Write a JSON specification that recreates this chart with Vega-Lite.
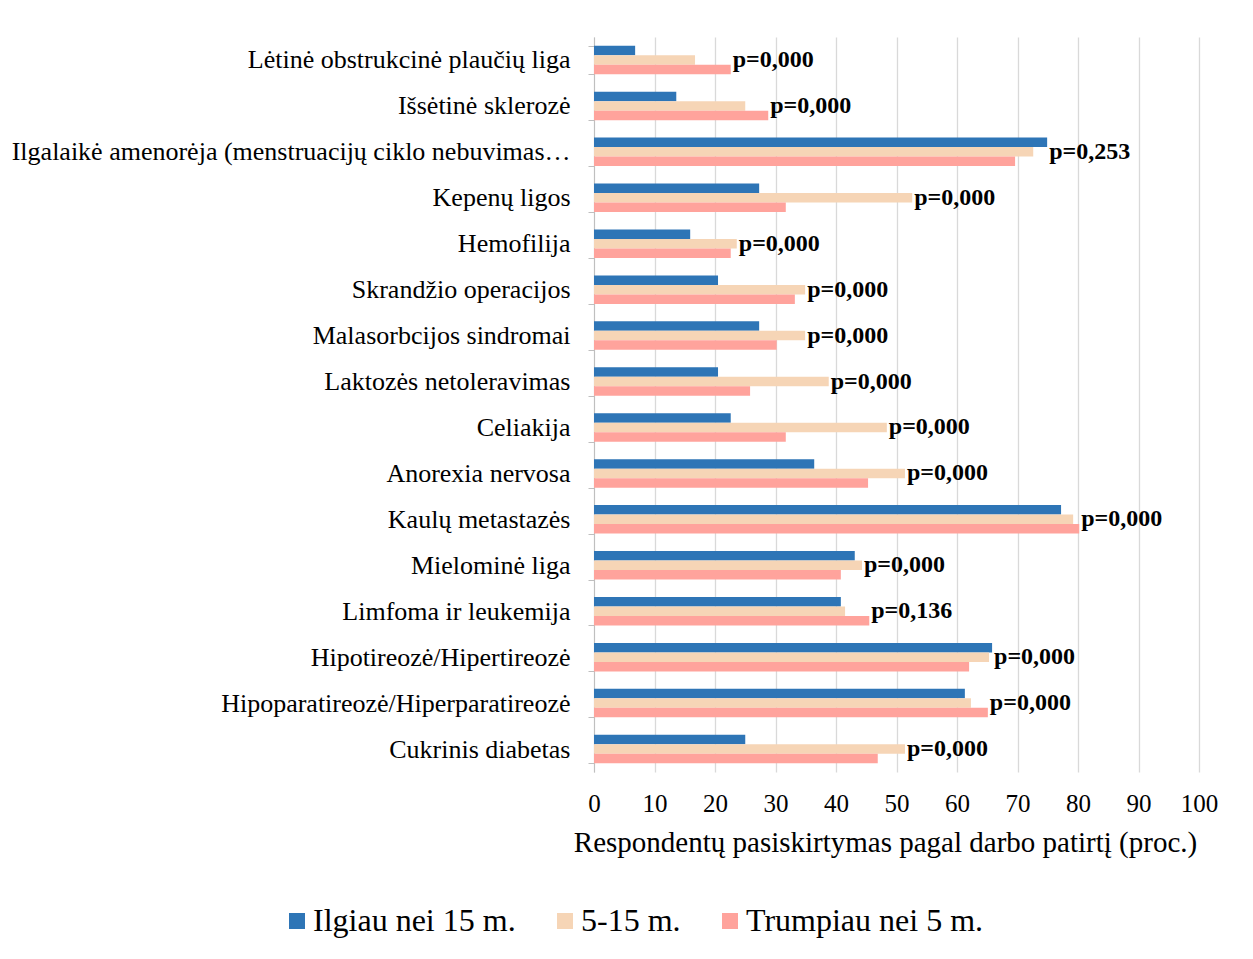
{
  "$schema": "https://vega.github.io/schema/vega-lite/v6.json",
  "autosize": "none",
  "width": 605,
  "height": 735,
  "padding": {"left": 594, "top": 37, "right": 54, "bottom": 187},
  "background": "white",
  "config": {
    "font": "Liberation Serif",
    "view": {"stroke": null}
  },
  "data": {
    "values": [
      {"category": "Lėtinė obstrukcinė plaučių liga", "series": "Ilgiau nei 15 m.", "value": 6.8, "p": "p=0,000"},
      {"category": "Lėtinė obstrukcinė plaučių liga", "series": "5-15 m.", "value": 16.7, "p": "p=0,000"},
      {"category": "Lėtinė obstrukcinė plaučių liga", "series": "Trumpiau nei 5 m.", "value": 22.6, "p": "p=0,000"},
      {"category": "Išsėtinė sklerozė", "series": "Ilgiau nei 15 m.", "value": 13.6, "p": "p=0,000"},
      {"category": "Išsėtinė sklerozė", "series": "5-15 m.", "value": 25.0, "p": "p=0,000"},
      {"category": "Išsėtinė sklerozė", "series": "Trumpiau nei 5 m.", "value": 28.8, "p": "p=0,000"},
      {"category": "Ilgalaikė amenorėja (menstruacijų ciklo nebuvimas…", "series": "Ilgiau nei 15 m.", "value": 74.9, "p": "p=0,253"},
      {"category": "Ilgalaikė amenorėja (menstruacijų ciklo nebuvimas…", "series": "5-15 m.", "value": 72.6, "p": "p=0,253"},
      {"category": "Ilgalaikė amenorėja (menstruacijų ciklo nebuvimas…", "series": "Trumpiau nei 5 m.", "value": 69.6, "p": "p=0,253"},
      {"category": "Kepenų ligos", "series": "Ilgiau nei 15 m.", "value": 27.3, "p": "p=0,000"},
      {"category": "Kepenų ligos", "series": "5-15 m.", "value": 52.6, "p": "p=0,000"},
      {"category": "Kepenų ligos", "series": "Trumpiau nei 5 m.", "value": 31.7, "p": "p=0,000"},
      {"category": "Hemofilija", "series": "Ilgiau nei 15 m.", "value": 15.9, "p": "p=0,000"},
      {"category": "Hemofilija", "series": "5-15 m.", "value": 23.6, "p": "p=0,000"},
      {"category": "Hemofilija", "series": "Trumpiau nei 5 m.", "value": 22.6, "p": "p=0,000"},
      {"category": "Skrandžio operacijos", "series": "Ilgiau nei 15 m.", "value": 20.5, "p": "p=0,000"},
      {"category": "Skrandžio operacijos", "series": "5-15 m.", "value": 34.9, "p": "p=0,000"},
      {"category": "Skrandžio operacijos", "series": "Trumpiau nei 5 m.", "value": 33.2, "p": "p=0,000"},
      {"category": "Malasorbcijos sindromai", "series": "Ilgiau nei 15 m.", "value": 27.3, "p": "p=0,000"},
      {"category": "Malasorbcijos sindromai", "series": "5-15 m.", "value": 34.9, "p": "p=0,000"},
      {"category": "Malasorbcijos sindromai", "series": "Trumpiau nei 5 m.", "value": 30.2, "p": "p=0,000"},
      {"category": "Laktozės netoleravimas", "series": "Ilgiau nei 15 m.", "value": 20.5, "p": "p=0,000"},
      {"category": "Laktozės netoleravimas", "series": "5-15 m.", "value": 38.8, "p": "p=0,000"},
      {"category": "Laktozės netoleravimas", "series": "Trumpiau nei 5 m.", "value": 25.8, "p": "p=0,000"},
      {"category": "Celiakija", "series": "Ilgiau nei 15 m.", "value": 22.6, "p": "p=0,000"},
      {"category": "Celiakija", "series": "5-15 m.", "value": 48.4, "p": "p=0,000"},
      {"category": "Celiakija", "series": "Trumpiau nei 5 m.", "value": 31.7, "p": "p=0,000"},
      {"category": "Anorexia nervosa", "series": "Ilgiau nei 15 m.", "value": 36.4, "p": "p=0,000"},
      {"category": "Anorexia nervosa", "series": "5-15 m.", "value": 51.4, "p": "p=0,000"},
      {"category": "Anorexia nervosa", "series": "Trumpiau nei 5 m.", "value": 45.3, "p": "p=0,000"},
      {"category": "Kaulų metastazės", "series": "Ilgiau nei 15 m.", "value": 77.2, "p": "p=0,000"},
      {"category": "Kaulų metastazės", "series": "5-15 m.", "value": 79.2, "p": "p=0,000"},
      {"category": "Kaulų metastazės", "series": "Trumpiau nei 5 m.", "value": 80.2, "p": "p=0,000"},
      {"category": "Mielominė liga", "series": "Ilgiau nei 15 m.", "value": 43.1, "p": "p=0,000"},
      {"category": "Mielominė liga", "series": "5-15 m.", "value": 44.3, "p": "p=0,000"},
      {"category": "Mielominė liga", "series": "Trumpiau nei 5 m.", "value": 40.8, "p": "p=0,000"},
      {"category": "Limfoma ir leukemija", "series": "Ilgiau nei 15 m.", "value": 40.8, "p": "p=0,136"},
      {"category": "Limfoma ir leukemija", "series": "5-15 m.", "value": 41.5, "p": "p=0,136"},
      {"category": "Limfoma ir leukemija", "series": "Trumpiau nei 5 m.", "value": 45.5, "p": "p=0,136"},
      {"category": "Hipotireozė/Hipertireozė", "series": "Ilgiau nei 15 m.", "value": 65.8, "p": "p=0,000"},
      {"category": "Hipotireozė/Hipertireozė", "series": "5-15 m.", "value": 65.3, "p": "p=0,000"},
      {"category": "Hipotireozė/Hipertireozė", "series": "Trumpiau nei 5 m.", "value": 62.0, "p": "p=0,000"},
      {"category": "Hipoparatireozė/Hiperparatireozė", "series": "Ilgiau nei 15 m.", "value": 61.3, "p": "p=0,000"},
      {"category": "Hipoparatireozė/Hiperparatireozė", "series": "5-15 m.", "value": 62.3, "p": "p=0,000"},
      {"category": "Hipoparatireozė/Hiperparatireozė", "series": "Trumpiau nei 5 m.", "value": 65.1, "p": "p=0,000"},
      {"category": "Cukrinis diabetas", "series": "Ilgiau nei 15 m.", "value": 25.0, "p": "p=0,000"},
      {"category": "Cukrinis diabetas", "series": "5-15 m.", "value": 51.4, "p": "p=0,000"},
      {"category": "Cukrinis diabetas", "series": "Trumpiau nei 5 m.", "value": 46.9, "p": "p=0,000"}
    ]
  },
  "layer": [
    {
      "mark": {"type": "bar"},
      "encoding": {
        "y": {
          "field": "category",
          "type": "nominal",
          "sort": ["Lėtinė obstrukcinė plaučių liga", "Išsėtinė sklerozė", "Ilgalaikė amenorėja (menstruacijų ciklo nebuvimas…", "Kepenų ligos", "Hemofilija", "Skrandžio operacijos", "Malasorbcijos sindromai", "Laktozės netoleravimas", "Celiakija", "Anorexia nervosa", "Kaulų metastazės", "Mielominė liga", "Limfoma ir leukemija", "Hipotireozė/Hipertireozė", "Hipoparatireozė/Hiperparatireozė", "Cukrinis diabetas"],
          "scale": {"paddingInner": 0.38, "paddingOuter": 0.19},
          "axis": {
            "title": null,
            "labelFont": "Liberation Serif",
            "labelFontSize": 26,
            "labelColor": "#000000",
            "labelLimit": 620,
            "labelPadding": 18,
            "domainColor": "#bfbfbf",
            "domainWidth": 1,
            "tickColor": "#bfbfbf",
            "tickSize": 6,
            "tickBand": "extent",
            "grid": false
          }
        },
        "yOffset": {
          "field": "series",
          "type": "nominal",
          "sort": ["Ilgiau nei 15 m.", "5-15 m.", "Trumpiau nei 5 m."]
        },
        "x": {
          "field": "value",
          "type": "quantitative",
          "scale": {"domain": [0, 100], "nice": false},
          "axis": {
            "values": [0, 10, 20, 30, 40, 50, 60, 70, 80, 90, 100],
            "title": "Respondentų pasiskirtymas pagal darbo patirtį (proc.)",
            "titleFont": "Liberation Serif",
            "titleFontSize": 29,
            "titleFontWeight": "normal",
            "titleColor": "#000000",
            "titlePadding": 12,
            "titleX": 291,
            "titleAlign": "center",
            "labelFont": "Liberation Serif",
            "labelFontSize": 25,
            "labelColor": "#000000",
            "labelPadding": 19,
            "labelFlush": false,
            "labelOverlap": false,
            "domain": false,
            "ticks": false,
            "grid": true,
            "gridColor": "#d9d9d9",
            "gridWidth": 1.3
          }
        },
        "color": {
          "field": "series",
          "type": "nominal",
          "sort": ["Ilgiau nei 15 m.", "5-15 m.", "Trumpiau nei 5 m."],
          "scale": {
            "domain": ["Ilgiau nei 15 m.", "5-15 m.", "Trumpiau nei 5 m."],
            "range": ["#2E75B6", "#F6D5B6", "#FFA39C"]
          },
          "legend": {
            "title": null,
            "orient": "none",
            "legendX": -313,
            "legendY": 868,
            "direction": "horizontal",
            "symbolType": "square",
            "symbolSize": 256,
            "symbolStrokeWidth": 0,
            "labelFont": "Liberation Serif",
            "labelFontSize": 32,
            "labelColor": "#000000",
            "labelOffset": 0,
            "labelLimit": 400,
            "columnPadding": 33
          }
        }
      }
    },
    {
      "transform": [
        {"aggregate": [{"op": "max", "field": "value", "as": "maxValue"}], "groupby": ["category", "p"]}
      ],
      "mark": {"type": "text", "align": "left", "baseline": "middle", "dx": 2, "fontWeight": "bold", "fontSize": 24, "font": "Liberation Serif", "color": "#000000"},
      "encoding": {
        "y": {
          "field": "category",
          "type": "nominal",
          "sort": ["Lėtinė obstrukcinė plaučių liga", "Išsėtinė sklerozė", "Ilgalaikė amenorėja (menstruacijų ciklo nebuvimas…", "Kepenų ligos", "Hemofilija", "Skrandžio operacijos", "Malasorbcijos sindromai", "Laktozės netoleravimas", "Celiakija", "Anorexia nervosa", "Kaulų metastazės", "Mielominė liga", "Limfoma ir leukemija", "Hipotireozė/Hipertireozė", "Hipoparatireozė/Hiperparatireozė", "Cukrinis diabetas"]
        },
        "x": {"field": "maxValue", "type": "quantitative"},
        "text": {"field": "p", "type": "nominal"}
      }
    }
  ]
}
